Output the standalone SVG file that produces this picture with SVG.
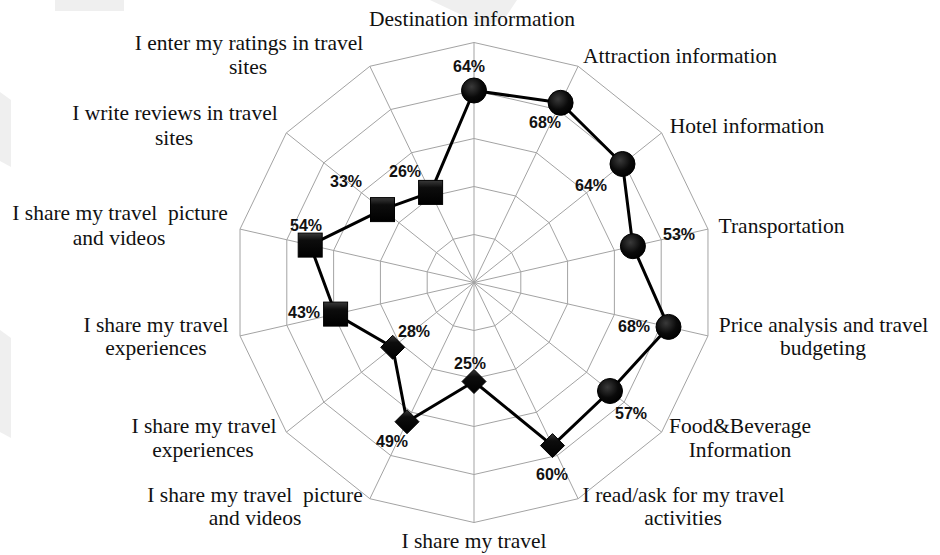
<svg xmlns="http://www.w3.org/2000/svg" width="940" height="555" viewBox="0 0 940 555">
<style>
.grid{fill:none;stroke:#a3a3a3;stroke-width:1}
.spoke{stroke:#a3a3a3;stroke-width:1}
.data{fill:none;stroke:#000;stroke-width:3;stroke-linejoin:round}
.lbl{font-size:21.5px;fill:#111;text-anchor:middle}
.pct{font-weight:bold;font-size:16px;fill:#111;text-anchor:middle}
.wm{fill:#efefef}
.c{fill:url(#gc);stroke:#000;stroke-width:1}
.s{fill:url(#gs);stroke:#000;stroke-width:1}
</style>
<defs>
<radialGradient id="gc" cx="0.4" cy="0.35" r="0.7">
<stop offset="0" stop-color="#3a3a3a"/>
<stop offset="0.6" stop-color="#0a0a0a"/>
<stop offset="1" stop-color="#000"/>
</radialGradient>
<linearGradient id="gs" x1="0" y1="0" x2="0" y2="1">
<stop offset="0" stop-color="#3a3a3a"/>
<stop offset="0.3" stop-color="#0d0d0d"/>
<stop offset="1" stop-color="#000"/>
</linearGradient>
<rect id="sq" x="-12" y="-12" width="24" height="24"/>
<polygon id="dm" points="0,-12 12,0 0,12 -12,0"/>
</defs>
<rect width="940" height="555" fill="#fff"/>
<g id="watermark">
<polygon class="wm" points="55,0 124,0 124,11 55,11"/>
<polygon class="wm" points="430,0 517,0 505,18 485,26"/>
<polygon class="wm" points="0,92 11,100 11,167 0,161"/>
<polygon class="wm" points="0,330 11,338 11,438 0,432"/>
</g>
<g id="grid">
<polygon class="grid" points="474,42.5 578.13,66.27 661.64,132.86 707.98,229.1 707.98,335.9 661.64,432.14 578.13,498.73 474,522.5 369.87,498.73 286.36,432.14 240.02,335.9 240.02,229.1 286.36,132.86 369.87,66.27"/>
<polygon class="grid" points="474,90.5 557.3,109.51 624.11,162.79 661.19,239.78 661.19,325.22 624.11,402.21 557.3,455.49 474,474.5 390.7,455.49 323.89,402.21 286.81,325.22 286.81,239.78 323.89,162.79 390.7,109.51"/>
<polygon class="grid" points="474,138.5 536.48,152.76 586.58,192.72 614.39,250.46 614.39,314.54 586.58,372.28 536.48,412.24 474,426.5 411.52,412.24 361.42,372.28 333.61,314.54 333.61,250.46 361.42,192.72 411.52,152.76"/>
<polygon class="grid" points="474,186.5 515.65,196.01 549.06,222.64 567.59,261.14 567.59,303.86 549.06,342.36 515.65,368.99 474,378.5 432.35,368.99 398.94,342.36 380.41,303.86 380.41,261.14 398.94,222.64 432.35,196.01"/>
<polygon class="grid" points="474,234.5 494.83,239.25 511.53,252.57 520.8,271.82 520.8,293.18 511.53,312.43 494.83,325.75 474,330.5 453.17,325.75 436.47,312.43 427.2,293.18 427.2,271.82 436.47,252.57 453.17,239.25"/>
<g class="spoke">
<line x1="474" y1="282.5" x2="474" y2="42.5"/>
<line x1="474" y1="282.5" x2="578.13" y2="66.27"/>
<line x1="474" y1="282.5" x2="661.64" y2="132.86"/>
<line x1="474" y1="282.5" x2="707.98" y2="229.1"/>
<line x1="474" y1="282.5" x2="707.98" y2="335.9"/>
<line x1="474" y1="282.5" x2="661.64" y2="432.14"/>
<line x1="474" y1="282.5" x2="578.13" y2="498.73"/>
<line x1="474" y1="282.5" x2="474" y2="522.5"/>
<line x1="474" y1="282.5" x2="369.87" y2="498.73"/>
<line x1="474" y1="282.5" x2="286.36" y2="432.14"/>
<line x1="474" y1="282.5" x2="240.02" y2="335.9"/>
<line x1="474" y1="282.5" x2="240.02" y2="229.1"/>
<line x1="474" y1="282.5" x2="286.36" y2="132.86"/>
<line x1="474" y1="282.5" x2="369.87" y2="66.27"/>
</g>
</g>
<g id="connectors">
<polygon class="data" points="474,90.5 560.6,102.8 622.5,164 632.9,246.2 668.5,326.9 610,391 552.5,445.6 474,381.5 407,421.7 392.7,347.3 335.6,314.1 310.2,245.1 382.5,209.6 430.6,192.4"/>
</g>
<g id="points" font-family="Liberation Sans, Arial, sans-serif">
<g id="p0"><circle class="c" cx="474" cy="90.5" r="12.5"/><text class="pct" x="469" y="72">64%</text></g>
<g id="p1"><circle class="c" cx="560.6" cy="102.8" r="12.5"/><text class="pct" x="545" y="128">68%</text></g>
<g id="p2"><circle class="c" cx="622.5" cy="164" r="12.5"/><text class="pct" x="591" y="191">64%</text></g>
<g id="p3"><circle class="c" cx="632.9" cy="246.2" r="12.5"/><text class="pct" x="679" y="240">53%</text></g>
<g id="p4"><circle class="c" cx="668.5" cy="326.9" r="12.5"/><text class="pct" x="634" y="332">68%</text></g>
<g id="p5"><circle class="c" cx="610" cy="391" r="12.5"/><text class="pct" x="631" y="419">57%</text></g>
<g id="p6"><use href="#dm" class="s" x="552.5" y="445.6"/><text class="pct" x="552" y="480">60%</text></g>
<g id="p7"><use href="#dm" class="s" x="474" y="381.5"/><text class="pct" x="470" y="369">25%</text></g>
<g id="p8"><use href="#dm" class="s" x="407" y="421.7"/><text class="pct" x="392" y="447">49%</text></g>
<g id="p9"><use href="#dm" class="s" x="392.7" y="347.3"/><text class="pct" x="414" y="337">28%</text></g>
<g id="p10"><use href="#sq" class="s" x="335.6" y="314.1"/><text class="pct" x="304" y="318">43%</text></g>
<g id="p11"><use href="#sq" class="s" x="310.2" y="245.1"/><text class="pct" x="306" y="231">54%</text></g>
<g id="p12"><use href="#sq" class="s" x="382.5" y="209.6"/><text class="pct" x="346" y="187">33%</text></g>
<g id="p13"><use href="#sq" class="s" x="430.6" y="192.4"/><text class="pct" x="405" y="177">26%</text></g>
</g>
<g id="labels" font-family="Liberation Serif, Times New Roman, serif">
<g id="a0"><text class="lbl" x="472" y="26">Destination information</text></g>
<g id="a1"><text class="lbl" x="680" y="63">Attraction information</text></g>
<g id="a2"><text class="lbl" x="747" y="133">Hotel information</text></g>
<g id="a3"><text class="lbl" x="781.5" y="233">Transportation</text></g>
<g id="a4"><text class="lbl" x="823.5" y="332">Price analysis and travel</text><text class="lbl" x="823" y="355">budgeting</text></g>
<g id="a5"><text class="lbl" x="740" y="433">Food&amp;Beverage</text><text class="lbl" x="740" y="457">Information</text></g>
<g id="a6"><text class="lbl" x="683.5" y="502">I read/ask for my travel</text><text class="lbl" x="683" y="525">activities</text></g>
<g id="a7"><text class="lbl" x="474" y="548">I share my travel</text></g>
<g id="a8"><text class="lbl" x="255" y="502" xml:space="preserve">I share my travel  picture</text><text class="lbl" x="255" y="525">and videos</text></g>
<g id="a9"><text class="lbl" x="204" y="433">I share my travel</text><text class="lbl" x="203" y="457">experiences</text></g>
<g id="a10"><text class="lbl" x="156" y="332">I share my travel</text><text class="lbl" x="156" y="355">experiences</text></g>
<g id="a11"><text class="lbl" x="120" y="220" xml:space="preserve">I share my travel  picture</text><text class="lbl" x="119" y="245">and videos</text></g>
<g id="a12"><text class="lbl" x="175" y="120">I write reviews in travel</text><text class="lbl" x="174" y="145">sites</text></g>
<g id="a13"><text class="lbl" x="249" y="50">I enter my ratings in travel</text><text class="lbl" x="248" y="74">sites</text></g>
</g>
</svg>
